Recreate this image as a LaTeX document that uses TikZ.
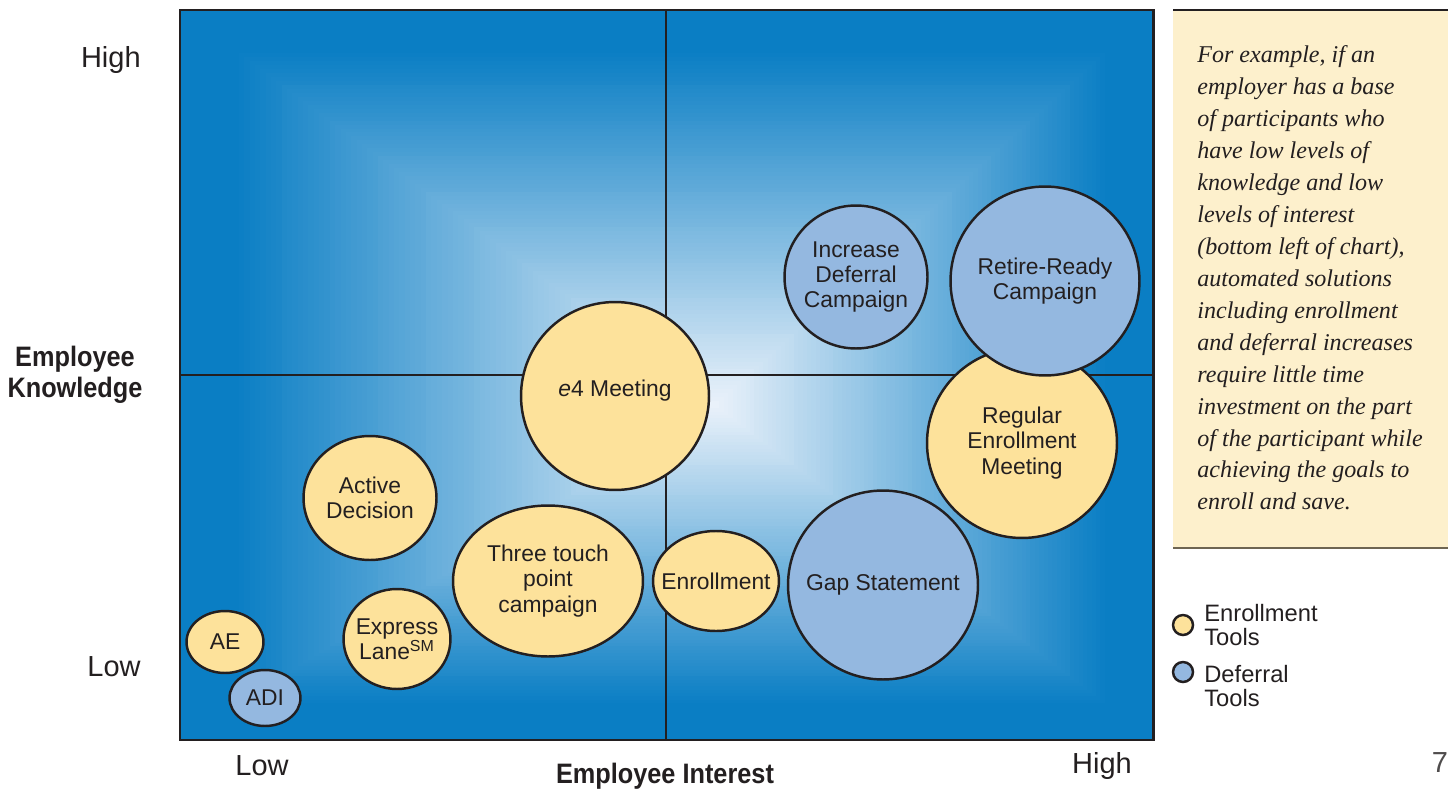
\documentclass[tikz,border=0pt]{standalone}
\usepackage{fontspec}
\setmainfont{Liberation Sans}
\newfontfamily\notefont{Liberation Serif}
\newfontfamily\axisfont[FakeStretch=0.9]{Liberation Sans}
\usetikzlibrary{shapes.geometric}

\definecolor{bgblue}{HTML}{0A7EC4}
\definecolor{bglight}{HTML}{EDF3FB}
\definecolor{enrollfill}{HTML}{FDE29B}
\definecolor{deferfill}{HTML}{94B8E0}
\definecolor{ink}{HTML}{231F20}
\definecolor{notefill}{HTML}{FDF0CC}
\definecolor{notebot}{HTML}{6E6552}

\tikzset{
  tool/.style={ellipse, draw=ink, line width=1.4pt, inner xsep=-1cm, inner ysep=0pt,
    text=ink, align=center, font=\fontsize{13}{14.4}\selectfont},
  enroll/.style={tool, fill=enrollfill},
  defer/.style={tool, fill=deferfill},
  level/.style={text=ink, inner sep=0pt, font=\fontsize{16.5}{19}\selectfont},
  axis/.style={text=ink, align=center, inner sep=0pt,
    font=\axisfont\bfseries\fontsize{16}{17.5}\selectfont},
  key/.style={circle, draw=ink, line width=1.4pt, minimum size=0.4cm, inner sep=0pt},
  keytext/.style={text=ink, align=left, inner sep=0pt, font=\fontsize{13.5}{13.8}\selectfont},
}

\begin{document}
\begin{tikzpicture}[x=0.02cm,y=-0.02cm]
  \useasboundingbox (0,0) rectangle (1448,791);

  % backdrop: rectangles closing in on the light spot
  \foreach \i in {0,...,100}{
    \pgfmathtruncatemacro\pct{max(0,(\i-10)*100/90)}
    \fill[bglight!\pct!bgblue] ({180+\i*5.35},{10+\i*3.95})
      rectangle ({1153-\i*4.38},{740-\i*3.35});
  }
  \draw[ink,line width=1.1pt] (666,10) -- (666,740);
  \draw[ink,line width=1.1pt] (180,375) -- (1153,375);
  \draw[ink,line width=1.7pt] (180,10) rectangle (1153,740);

  % tools
  \node[defer, minimum width=2.86cm, minimum height=2.86cm] (incdef) at (856,277)
    {Increase\\Deferral\\Campaign};
  \node[enroll, minimum width=3.80cm, minimum height=3.80cm] (regular) at (1022,443)
    {Regular\\Enrollment\\Meeting};
  \node[defer, minimum width=3.78cm, minimum height=3.78cm] (retire) at (1045,281)
    {Retire-Ready\\Campaign};
  \node[enroll, minimum width=3.76cm, minimum height=3.76cm] (e4) at (615,396)
    {\raisebox{0.3cm}{\textit{e}4 Meeting}};
  \node[enroll, minimum width=2.66cm, minimum height=2.48cm] (active) at (370,498)
    {Active\\Decision};
  \node[enroll, minimum width=3.80cm, minimum height=3.02cm] (three) at (548,581)
    {Three touch\\point\\campaign};
  \node[enroll, minimum width=2.14cm, minimum height=2.00cm] (express) at (397,639)
    {Express\\Lane\textsuperscript{SM}};
  \node[enroll, minimum width=1.54cm, minimum height=1.24cm] (ae) at (225,642) {AE};
  \node[defer, minimum width=1.42cm, minimum height=1.12cm] (adi) at (265,698) {ADI};
  \node[enroll, minimum width=2.52cm, minimum height=2.00cm] (enrol) at (716,581)
    {Enrollment};
  \node[defer, minimum width=3.80cm, minimum height=3.78cm] (gap) at (883,585)
    {Gap Statement};

  % axes
  \node[level, anchor=east] (khigh) at (141,60) {High};
  \node[level, anchor=east] (klow) at (141,667) {Low};
  \node[level] (ilow) at (262,766) {Low};
  \node[level] (ihigh) at (1102,766) {High};
  \node[axis] (know) at (75,375) {Employee\\Knowledge};
  \node[axis] (interest) at (665,776) {Employee Interest};

  % side note
  \fill[notefill] (1173,10) rectangle (1448,548);
  \draw[ink,line width=1pt] (1173,10) -- (1448,10);
  \draw[notebot,line width=1.4pt] (1173,548) -- (1448,548);
  \node[anchor=north west, align=left, inner sep=0pt, text=ink,
    font=\notefont\itshape\fontsize{13.7}{18.2}\selectfont] (note) at (1197,45)
    {For example, if an\\employer has a base\\of participants who\\have low levels of\\
     knowledge and low\\levels of interest\\(bottom left of chart),\\automated solutions\\
     including enrollment\\and deferral increases\\require little time\\
     investment on the part\\of the participant while\\achieving the goals to\\
     enroll and save.};

  % key
  \node[key, fill=enrollfill] (kenroll) at (1183,625) {};
  \node[key, fill=deferfill] (kdefer) at (1183,672) {};
  \node[keytext, anchor=west] (tenroll) at (1204,625) {Enrollment\\Tools};
  \node[keytext, anchor=west] (tdefer) at (1204,686) {Deferral\\Tools};

  \node[level, text=ink!80] (page) at (1440,763) {7};
\end{tikzpicture}
\end{document}
